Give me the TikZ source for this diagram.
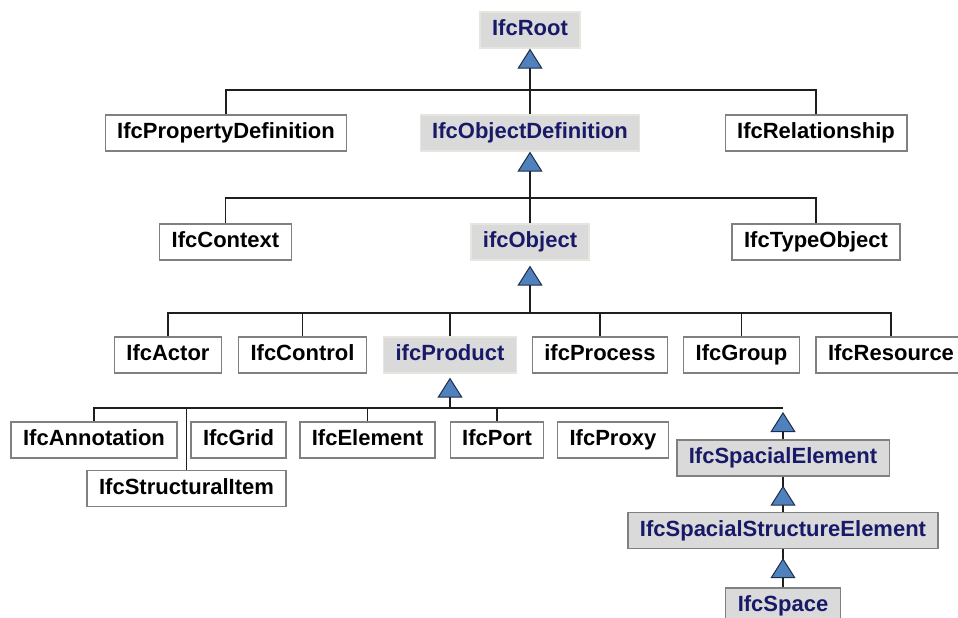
\documentclass[tikz,border=0pt]{standalone}
\usepackage{fontspec}
\setmainfont{Liberation Sans}
\usetikzlibrary{arrows.meta}

\definecolor{boxgray}{RGB}{218,218,218}
\definecolor{boxedge}{RGB}{230,230,222}
\definecolor{navytext}{RGB}{24,26,104}
\definecolor{triblue}{RGB}{79,129,189}
\definecolor{tridark}{RGB}{30,45,75}
\definecolor{linegray}{RGB}{30,30,30}

\tikzset{
  cls/.style={draw=gray, line width=1.3pt, fill=white, text=black,
    font=\fontsize{22}{26}\selectfont\bfseries,
    minimum height=36pt, inner xsep=12pt, inner ysep=0pt,
    text height=16pt, text depth=4.5pt},
  abs/.style={cls, fill=boxgray, draw=boxedge, text=navytext},
  absd/.style={abs, draw=gray},
  link/.style={draw=linegray, line width=1.3pt},
  inh/.style={link, -{Triangle[width=25pt, length=20pt, line width=1pt, color=tridark, fill=triblue]}},
  stem/.style={line width=2.4pt}
}

\begin{document}
\begin{tikzpicture}[x=1pt, y=-1pt]
  \clip (0,0) rectangle (958,618);
  % root
  \node[abs] (root) at (530,30) {IfcRoot};
  % first level
  \node[cls] (propdef) at (226,133) {IfcPropertyDefinition};
  \node[abs] (objdef) at (530,133) {IfcObjectDefinition};
  \node[cls] (relship) at (816,133) {IfcRelationship};
  \coordinate (bar1) at (530,90);
  \draw[link] (propdef.north) |- (bar1) -| (relship.north);
  \draw[link] (objdef.north) -- (bar1);
  \draw[inh, stem] (bar1) -- (root.south);
  % object definition
  \node[cls] (context) at (225.5,242) {IfcContext};
  \node[abs] (object) at (530,242) {ifcObject};
  \node[cls] (typeobj) at (816,242) {IfcTypeObject};
  \coordinate (bar2) at (530,198);
  \draw[link] (context.north) |- (bar2) -| (typeobj.north);
  \draw[link] (object.north) -- (bar2);
  \draw[inh, stem] (bar2) -- (objdef.south);
  % object
  \node[cls] (actor) at (168,355) {IfcActor};
  \node[cls] (control) at (302.5,355) {IfcControl};
  \node[abs] (product) at (450,355) {ifcProduct};
  \node[cls] (process) at (600,355) {ifcProcess};
  \node[cls] (group) at (741.5,355) {IfcGroup};
  \node[cls] (resource) at (891,355) {IfcResource};
  \coordinate (bar3) at (530,313);
  \draw[link] (actor.north) |- (bar3) -| (resource.north);
  \foreach \n in {control, product, process, group}
    \draw[link] (\n.north) -- (\n.north |- bar3);
  \draw[inh, shorten >=5pt] (bar3) -- (object.south);
  % product
  \node[cls] (annot) at (94,440) {IfcAnnotation};
  \node[cls] (grid) at (238.5,440) {IfcGrid};
  \node[cls] (element) at (367.5,440) {IfcElement};
  \node[cls] (port) at (497,440) {IfcPort};
  \node[cls] (proxy) at (613,440) {IfcProxy};
  \node[cls] (structitem) at (186.5,488.5) {IfcStructuralItem};
  \node[absd] (spatial) at (783,458) {IfcSpacialElement};
  \node[absd] (spstruct) at (783,530.5) {IfcSpacialStructureElement};
  \node[absd] (space) at (783,606) {IfcSpace};
  \coordinate (bar4) at (450,408);
  \coordinate (bar4end) at (783,408);
  \draw[link] (annot.north) |- (bar4end);
  \foreach \n in {structitem, element, port}
    \draw[link] (\n.north) -- (\n.north |- bar4);
  \draw[inh, shorten >=4pt] (bar4) -- (product.south);
  % spatial chain
  \draw[inh, shorten >=4pt] (spatial.north) -- (bar4end);
  \draw[link] (spstruct.north) -- (spatial.south);
  \draw[inh, shorten >=9pt] (spstruct.north) -- (spatial.south);
  \draw[link] (space.north) -- (spstruct.south);
  \draw[inh, shorten >=9pt] (space.north) -- (spstruct.south);
\end{tikzpicture}
\end{document}
